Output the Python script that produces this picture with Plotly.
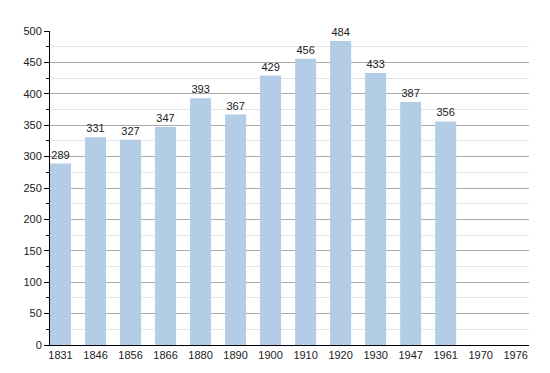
import plotly.graph_objects as go

years = ["1831", "1846", "1856", "1866", "1880", "1890", "1900", "1910",
         "1920", "1930", "1947", "1961", "1970", "1976"]
population = [289, 331, 327, 347, 393, 367, 429, 456, 484, 433, 387, 356, None, None]

labels = ["" if v is None else str(v) for v in population]

fig = go.Figure()
fig.add_trace(go.Bar(
    x=list(range(len(years))),
    y=population,
    text=labels,
    textposition="outside",
    textfont=dict(family="Liberation Sans, Arial, sans-serif", size=11, color="#222"),
    marker=dict(color="#b3cde6", line=dict(width=0)),
    width=0.6,
    cliponaxis=False,
))

# the page body adds an 8px offset, so the figure is sized/margined to compensate
fig.update_layout(
    width=542, height=365,
    margin=dict(l=42, r=21, t=23, b=22),
    paper_bgcolor="white",
    plot_bgcolor="white",
    showlegend=False,
    font=dict(family="Liberation Sans, Arial, sans-serif", size=11, color="#222"),
)
fig.update_xaxes(
    tickmode="array",
    tickvals=list(range(len(years))),
    ticktext=years,
    range=[-0.3, 13.38],
    showgrid=False,
    showline=True, linecolor="black", linewidth=1,
    ticks="", zeroline=False,
    tickfont=dict(size=11, color="#222"),
)
fig.update_yaxes(
    range=[0, 500],
    tickmode="linear", tick0=0, dtick=50,
    showgrid=True, gridcolor="#aaaaaa", gridwidth=1,
    showline=True, linecolor="black", linewidth=1,
    ticks="outside", ticklen=5, tickcolor="black",
    minor=dict(dtick=25, tick0=0, showgrid=True, gridcolor="#e4e4e4",
               ticks="outside", ticklen=3, tickcolor="black"),
    zeroline=False,
    tickfont=dict(size=11, color="#222"),
)

fig.write_html("out.html")
